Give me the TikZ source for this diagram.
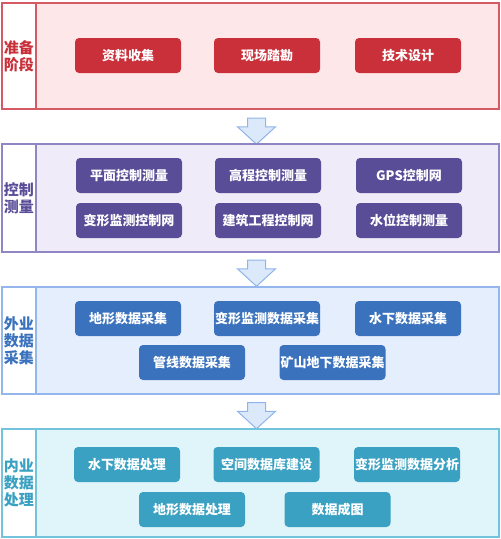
\documentclass[tikz,border=0pt]{standalone}
\usepackage{fontspec}
\newfontfamily\cjk{Noto Sans CJK SC}
\usetikzlibrary{shapes,arrows,positioning,calc}
\definecolor{prepred}{RGB}{201,48,58}
\definecolor{prepbg}{RGB}{253,231,232}
\definecolor{prepline}{RGB}{214,90,99}
\definecolor{ctrlpurple}{RGB}{90,77,152}
\definecolor{ctrlbg}{RGB}{239,235,248}
\definecolor{ctrlline}{RGB}{143,134,195}
\definecolor{fieldblue}{RGB}{59,114,189}
\definecolor{fieldbg}{RGB}{229,238,252}
\definecolor{fieldline}{RGB}{147,182,236}
\definecolor{procteal}{RGB}{58,161,194}
\definecolor{procbg}{RGB}{224,245,250}
\definecolor{procline}{RGB}{114,195,219}
\definecolor{arrowfill}{RGB}{220,233,251}
\definecolor{arrowline}{RGB}{143,180,234}

\begin{document}
\begin{tikzpicture}[x=1pt, y=-1pt,
  btn/.style={rounded corners=4pt, minimum width=106pt, minimum height=35pt, inner sep=0pt, text=white, font=\cjk\fontsize{13}{13}\selectfont\bfseries},
  stage/.style={draw, line width=1.2pt, minimum width=497pt, inner sep=0pt},
  tag/.style={draw, fill=white, line width=1.2pt, minimum width=34pt, inner sep=0pt, align=center, font=\cjk\fontsize{15}{17}\selectfont\bfseries},
  flow/.style={single arrow, draw=arrowline, fill=arrowfill, line width=1pt, shape border rotate=270, minimum height=26pt, inner sep=8.5pt, single arrow head extend=10pt, single arrow tip angle=95}]
  \useasboundingbox (0,0) rectangle (501,539);

  % stage 1
  \node[stage, draw=prepline, fill=prepbg, minimum height=106pt] (prep) at (250.5,56) {};
  \node[tag, draw=prepline, text=prepred, minimum height=106pt] (prepTag) at (19,56) {准备\\阶段};
  \node[btn, fill=prepred] (collect) at (128,55.5) {资料收集};
  \node[btn, fill=prepred] (survey) at (267,55.5) {现场踏勘};
  \node[btn, fill=prepred] (design) at (408,55.5) {技术设计};

  \node[flow] (arrowA) at (256.5,127) {};

  % stage 2
  \node[stage, draw=ctrlline, fill=ctrlbg, minimum height=108pt] (ctrl) at (250.5,198) {};
  \node[tag, draw=ctrlline, text=ctrlpurple, minimum height=108pt] (ctrlTag) at (19,198) {控制\\测量};
  \node[btn, fill=ctrlpurple] (plane) at (129,175.5) {平面控制测量};
  \node[btn, fill=ctrlpurple] (height) at (268,175.5) {高程控制测量};
  \node[btn, fill=ctrlpurple] (gps) at (409,175.5) {GPS控制网};
  \node[btn, fill=ctrlpurple] (deform) at (129,220.5) {变形监测控制网};
  \node[btn, fill=ctrlpurple] (build) at (268,220.5) {建筑工程控制网};
  \node[btn, fill=ctrlpurple] (water) at (409,220.5) {水位控制测量};

  \node[flow] (arrowB) at (256.5,269) {};

  % stage 3
  \node[stage, draw=fieldline, fill=fieldbg, minimum height=107pt] (field) at (250.5,340.5) {};
  \node[tag, draw=fieldline, text=fieldblue, minimum height=107pt] (fieldTag) at (19,340.5) {外业\\数据\\采集};
  \node[btn, fill=fieldblue] (terrain) at (128,318.5) {地形数据采集};
  \node[btn, fill=fieldblue] (deformData) at (267,318.5) {变形监测数据采集};
  \node[btn, fill=fieldblue] (under) at (408,318.5) {水下数据采集};
  \node[btn, fill=fieldblue] (pipe) at (192,362.5) {管线数据采集};
  \node[btn, fill=fieldblue] (mine) at (332.5,362.5) {矿山地下数据采集};

  \node[flow] (arrowC) at (256.5,411.5) {};

  % stage 4
  \node[stage, draw=procline, fill=procbg, minimum height=108pt] (proc) at (250.5,483) {};
  \node[tag, draw=procline, text=procteal, minimum height=108pt] (procTag) at (19,483) {内业\\数据\\处理};
  \node[btn, fill=procteal] (underProc) at (127,464.5) {水下数据处理};
  \node[btn, fill=procteal] (database) at (266.5,464.5) {空间数据库建设};
  \node[btn, fill=procteal] (analysis) at (407,464.5) {变形监测数据分析};
  \node[btn, fill=procteal] (terrainProc) at (192,509.5) {地形数据处理};
  \node[btn, fill=procteal] (mapping) at (337.5,509.5) {数据成图};
\end{tikzpicture}
\end{document}
